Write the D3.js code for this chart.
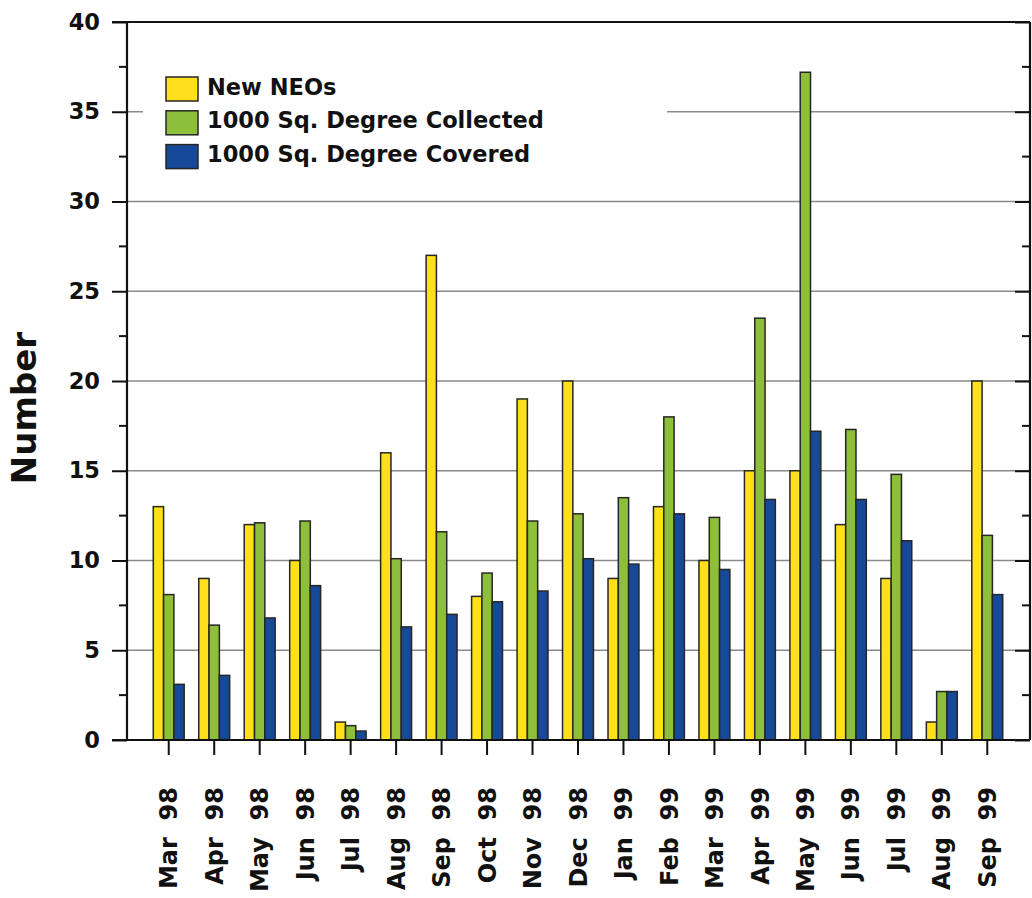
<!DOCTYPE html>
<html>
<head>
<meta charset="utf-8">
<script src="https://cdn.jsdelivr.net/npm/d3@7"></script>
<style>
    body { margin: 0; background: #fff; }
    #chart { width: 1032px; height: 898px; }
    text { font-family: "DejaVu Sans", sans-serif; font-weight: bold; fill: #111; }
</style>
</head>
<body>
<div id="chart"></div>
<script>

// month labels (two spaces between month and year like the original)
let months = ["Mar  98", "Apr  98", "May  98", "Jun  98", "Jul  98", "Aug  98", "Sep  98", "Oct  98",
    "Nov  98", "Dec  98", "Jan  99", "Feb  99", "Mar  99", "Apr  99", "May  99", "Jun  99",
    "Jul  99", "Aug  99", "Sep  99"];

let newNEOs     = [13, 9, 12, 10, 1, 16, 27, 8, 19, 20, 9, 13, 10, 15, 15, 12, 9, 1, 20];
let sqCollected = [8.1, 6.4, 12.1, 12.2, 0.8, 10.1, 11.6, 9.3, 12.2, 12.6, 13.5, 18, 12.4, 23.5, 37.2, 17.3, 14.8, 2.7, 11.4];
let sqCovered   = [3.1, 3.6, 6.8, 8.6, 0.5, 6.3, 7.0, 7.7, 8.3, 10.1, 9.8, 12.6, 9.5, 13.4, 17.2, 13.4, 11.1, 2.7, 8.1];

let seriesNames = ["New NEOs", "1000 Sq. Degree Collected", "1000 Sq. Degree Covered"];
let seriesColors = ["#ffe01b", "#8dbf3a", "#164a98"];

let yTicks = [0, 5, 10, 15, 20, 25, 30, 35, 40];
let yMinorTicks = [2.5, 7.5, 12.5, 17.5, 22.5, 27.5, 32.5, 37.5];


class NeoBarVis {

    constructor(parentElement) {
        this.parentElement = parentElement;
        this.initVis();
    }

    initVis() {
        let vis = this;

        vis.width = 1032;
        vis.height = 898;

        // frame edges of the plot
        vis.left = 127;
        vis.right = 1030;
        vis.top = 22;
        vis.bottom = 740;

        vis.svg = d3.select('#' + vis.parentElement).append('svg')
            .attr('width', vis.width)
            .attr('height', vis.height);

        vis.y = d3.scaleLinear()
            .domain([0, 40])
            .range([vis.bottom, vis.top]);

        vis.x = d3.scaleBand()
            .domain(months)
            .range([146, 1010])
            .paddingInner(0.32)
            .paddingOuter(0.16);

        vis.xSub = d3.scaleBand()
            .domain(seriesNames)
            .range([0, vis.x.bandwidth()]);

        vis.wrangleData();
    }

    wrangleData() {
        let vis = this;

        vis.displayData = months.map(function (m, i) {
            return {
                month: m,
                values: [
                    {key: seriesNames[0], value: newNEOs[i], color: seriesColors[0]},
                    {key: seriesNames[1], value: sqCollected[i], color: seriesColors[1]},
                    {key: seriesNames[2], value: sqCovered[i], color: seriesColors[2]}
                ]
            };
        });

        vis.updateVis();
    }

    updateVis() {
        let vis = this;

        // gridlines
        vis.svg.append('g')
            .selectAll('line')
            .data(yTicks.filter(d => d > 0 && d < 40))
            .enter()
            .append('line')
            .attr('x1', vis.left)
            .attr('x2', vis.right)
            .attr('y1', d => vis.y(d))
            .attr('y2', d => vis.y(d))
            .attr('stroke', '#8a8a8a')
            .attr('stroke-width', 1.5);

        // legend background hides part of the 35 gridline
        vis.svg.append('rect')
            .attr('x', 143)
            .attr('y', 62)
            .attr('width', 524)
            .attr('height', 120)
            .attr('fill', '#fff');

        // bars
        let groups = vis.svg.append('g')
            .selectAll('g')
            .data(vis.displayData)
            .enter()
            .append('g')
            .attr('transform', d => 'translate(' + vis.x(d.month) + ',0)');

        groups.selectAll('rect')
            .data(d => d.values)
            .enter()
            .append('rect')
            .attr('x', d => vis.xSub(d.key))
            .attr('y', d => vis.y(d.value))
            .attr('width', vis.xSub.bandwidth())
            .attr('height', d => vis.y(0) - vis.y(d.value))
            .attr('fill', d => d.color)
            .attr('stroke', '#262626')
            .attr('stroke-width', 1.5);

        // left axis
        let leftAxis = d3.axisLeft(vis.y)
            .tickValues(yTicks)
            .tickSize(15)
            .tickPadding(12)
            .tickFormat(d3.format('d'));

        let gLeft = vis.svg.append('g')
            .attr('transform', 'translate(' + vis.left + ',0)')
            .call(leftAxis);
        gLeft.select('.domain').remove();
        gLeft.selectAll('.tick line').attr('stroke', '#111').attr('stroke-width', 2);
        gLeft.selectAll('.tick text')
            .attr('font-size', 22.5)
            .attr('font-family', '"DejaVu Sans", sans-serif')
            .attr('font-weight', 'bold')
            .attr('fill', '#111');

        gLeft.selectAll('line.minor')
            .data(yMinorTicks)
            .enter()
            .append('line')
            .attr('class', 'minor')
            .attr('x1', -8)
            .attr('x2', 0)
            .attr('y1', d => vis.y(d))
            .attr('y2', d => vis.y(d))
            .attr('stroke', '#111')
            .attr('stroke-width', 2);

        // right axis, ticks pointing inward
        let rightAxis = d3.axisLeft(vis.y)
            .tickValues(yTicks)
            .tickSize(15)
            .tickFormat('');

        let gRight = vis.svg.append('g')
            .attr('transform', 'translate(' + vis.right + ',0)')
            .call(rightAxis);
        gRight.select('.domain').remove();
        gRight.selectAll('.tick line').attr('stroke', '#111').attr('stroke-width', 2);

        gRight.selectAll('line.minor')
            .data(yMinorTicks)
            .enter()
            .append('line')
            .attr('class', 'minor')
            .attr('x1', -8)
            .attr('x2', 0)
            .attr('y1', d => vis.y(d))
            .attr('y2', d => vis.y(d))
            .attr('stroke', '#111')
            .attr('stroke-width', 2);

        // frame lines
        let frame = [
            [112, vis.top, vis.right, vis.top],
            [112, vis.bottom, vis.right, vis.bottom],
            [vis.left, vis.top, vis.left, vis.bottom],
            [vis.right, vis.top, vis.right, vis.bottom]
        ];
        vis.svg.append('g')
            .selectAll('line')
            .data(frame)
            .enter()
            .append('line')
            .attr('x1', d => d[0])
            .attr('y1', d => d[1])
            .attr('x2', d => d[2])
            .attr('y2', d => d[3])
            .attr('stroke', '#111')
            .attr('stroke-width', 2.2);

        // bottom axis
        let bottomAxis = d3.axisBottom(vis.x)
            .tickSize(15)
            .tickFormat('');

        let gBottom = vis.svg.append('g')
            .attr('transform', 'translate(0,' + vis.bottom + ')')
            .call(bottomAxis);
        gBottom.select('.domain').remove();
        gBottom.selectAll('.tick line').attr('stroke', '#111').attr('stroke-width', 2);

        // rotated month labels
        vis.svg.append('g')
            .selectAll('text')
            .data(months)
            .enter()
            .append('text')
            .attr('transform', d => 'translate(' + (vis.x(d) + vis.x.bandwidth() / 2) + ',787) rotate(-90)')
            .attr('text-anchor', 'end')
            .attr('dy', '0.36em')
            .attr('font-size', 24)
            .style('white-space', 'pre')
            .text(d => d);

        // y axis title
        vis.svg.append('text')
            .attr('transform', 'translate(24,408) rotate(-90)')
            .attr('text-anchor', 'middle')
            .attr('dy', '0.36em')
            .attr('font-size', 34)
            .text('Number');

        // legend
        let legend = vis.svg.append('g')
            .selectAll('g')
            .data(seriesNames)
            .enter()
            .append('g')
            .attr('transform', (d, i) => 'translate(166,' + (77 + i * 33.8) + ')');

        legend.append('rect')
            .attr('width', 32)
            .attr('height', 24)
            .attr('fill', (d, i) => seriesColors[i])
            .attr('stroke', '#262626')
            .attr('stroke-width', 1.5);

        legend.append('text')
            .attr('x', 41)
            .attr('y', 17.5)
            .attr('font-size', 22.5)
            .text(d => d);
    }
}

let neoVis = new NeoBarVis('chart');

</script>
</body>
</html>
